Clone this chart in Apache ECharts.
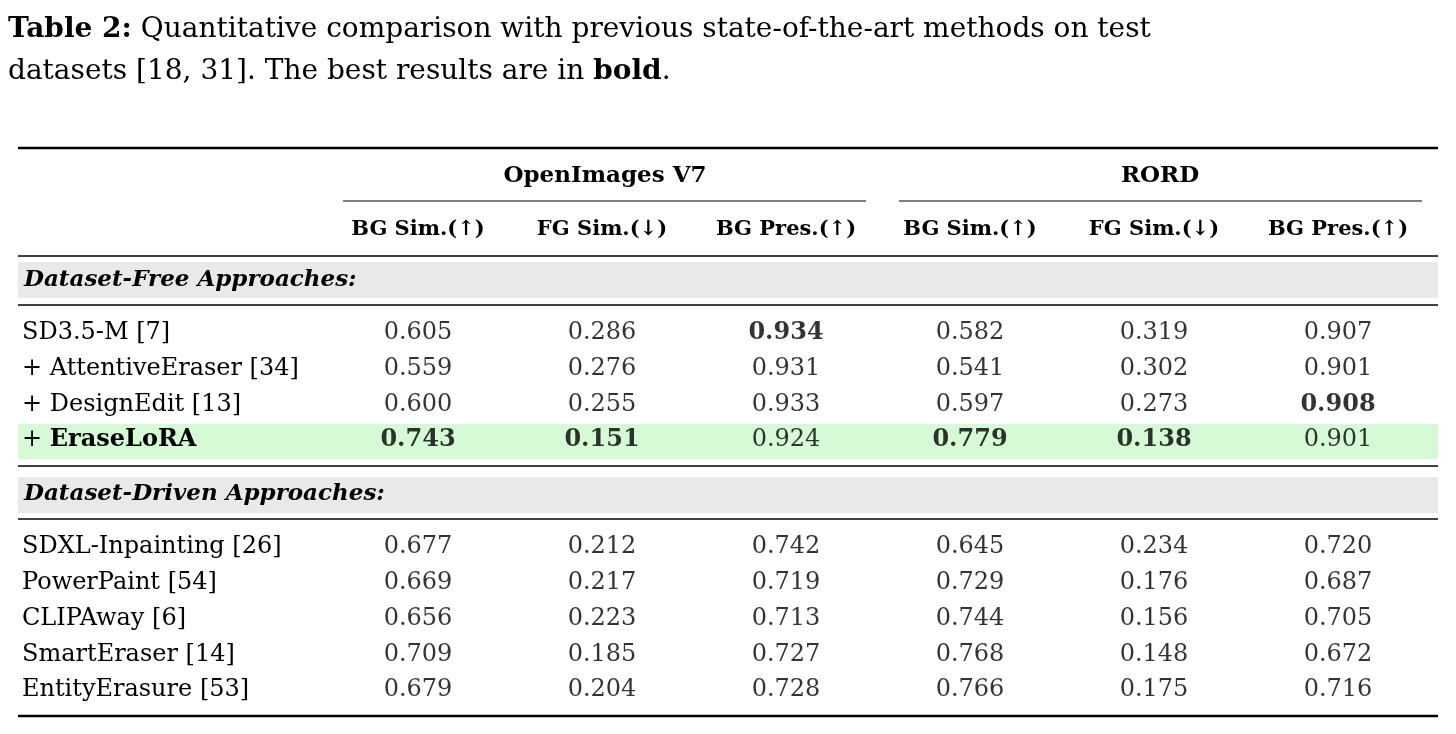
<!DOCTYPE html>
<html><head><meta charset="utf-8">
<script src="https://cdn.jsdelivr.net/npm/echarts@6/dist/echarts.min.js"></script>
<style>html,body{margin:0;padding:0;background:#fff}#c{width:1456px;height:734px}</style>
</head><body><div id="c"></div>
<script>
const columns = ['BG Sim.(↑)','FG Sim.(↓)','BG Pres.(↑)','BG Sim.(↑)','FG Sim.(↓)','BG Pres.(↑)'];
const groups = ['OpenImages V7','RORD'];
const methods = ['SD3.5-M [7]','+ AttentiveEraser [34]','+ DesignEdit [13]','+ EraseLoRA','','','SDXL-Inpainting [26]','PowerPaint [54]','CLIPAway [6]','SmartEraser [14]','EntityErasure [53]'];
const sections = ['Dataset-Free Approaches:','Dataset-Driven Approaches:'];
const values = [
 ['0.605','0.286','0.934','0.582','0.319','0.907'],
 ['0.559','0.276','0.931','0.541','0.302','0.901'],
 ['0.600','0.255','0.933','0.597','0.273','0.908'],
 ['0.743','0.151','0.924','0.779','0.138','0.901'],
 null,null,
 ['0.677','0.212','0.742','0.645','0.234','0.720'],
 ['0.669','0.217','0.719','0.729','0.176','0.687'],
 ['0.656','0.223','0.713','0.744','0.156','0.705'],
 ['0.709','0.185','0.727','0.768','0.148','0.672'],
 ['0.679','0.204','0.728','0.766','0.175','0.716']
];
const bold = [[0,2],[2,5],[3,0],[3,1],[3,3],[3,4]];
const FONT = '"DejaVu Serif", "Liberation Serif", serif';
const data = [];
values.forEach((row,r)=>{ if(!row) return; row.forEach((v,c)=>{
  const b = bold.some(p=>p[0]===r&&p[1]===c);
  data.push({value:[c,r,v], label:{fontWeight:b?'bold':'normal'}});
});});
const chart = echarts.init(document.getElementById('c'));
const line=(x1,y,x2,w)=>({type:'line',shape:{x1:x1,y1:y,x2:x2,y2:y},style:{stroke:'#000',lineWidth:w}});
chart.setOption({
  animation:false,
  grid:{left:326,width:1104,top:315,height:393},
  xAxis:{type:'category',data:columns,position:'top',axisLine:{show:false},axisTick:{show:false},
    axisLabel:{interval:0,margin:75,fontFamily:FONT,fontSize:21,fontWeight:'bold',color:'#000'}},
  yAxis:{type:'category',data:methods,inverse:true,axisLine:{show:false},axisTick:{show:false},
    axisLabel:{align:'left',margin:304,fontFamily:FONT,fontSize:24,color:'#000',
      formatter:(v)=>v==='+ EraseLoRA'?'{n|+ }{b|EraseLoRA}':v,
      rich:{n:{fontFamily:FONT,fontSize:24,color:'#000'},b:{fontFamily:FONT,fontSize:24,fontWeight:'bold',color:'#000'}}}},
  graphic:[
    {type:'rect',z:-10,shape:{x:18,y:262,width:1420,height:36},style:{fill:'#e9e9e9'}},
    {type:'rect',z:-10,shape:{x:18,y:424,width:1420,height:35},style:{fill:'#d5fad5'}},
    {type:'rect',z:-10,shape:{x:18,y:477,width:1420,height:36},style:{fill:'#e9e9e9'}},
    line(18,148,1438,2.5), line(343,201,866,1.2), line(899,201,1422,1.2),
    line(18,256,1438,1.5), line(18,305,1438,1.5), line(18,466,1438,1.5),
    line(18,519,1438,1.5), line(18,716,1438,2.5),
    {type:'text',left:8,top:16,style:{text:'{b|Table 2:} Quantitative comparison with previous state-of-the-art methods on test',font:'28px '+FONT,fill:'#000',
      rich:{b:{fontFamily:FONT,fontSize:28,fontWeight:'bold',fill:'#000'}}}},
    {type:'text',left:8,top:58,style:{text:'datasets [18, 31]. The best results are in {b|bold}.',font:'28px '+FONT,fill:'#000',
      rich:{b:{fontFamily:FONT,fontSize:28,fontWeight:'bold',fill:'#000'}}}},
    {type:'text',style:{x:605,y:176,text:groups[0],font:'bold 23px '+FONT,fill:'#000',align:'center',verticalAlign:'middle'}},
    {type:'text',style:{x:1160,y:176,text:groups[1],font:'bold 23px '+FONT,fill:'#000',align:'center',verticalAlign:'middle'}},
    {type:'text',style:{x:24,y:280,text:sections[0],font:'italic bold 23px '+FONT,fill:'#000',verticalAlign:'middle'}},
    {type:'text',style:{x:24,y:494,text:sections[1],font:'italic bold 23px '+FONT,fill:'#000',verticalAlign:'middle'}}
  ],
  series:[{type:'scatter',symbolSize:0,data:data,
    label:{show:true,position:'inside',formatter:(p)=>p.value[2],fontFamily:FONT,fontSize:24,color:'#000'}}]
});
</script></body></html>
